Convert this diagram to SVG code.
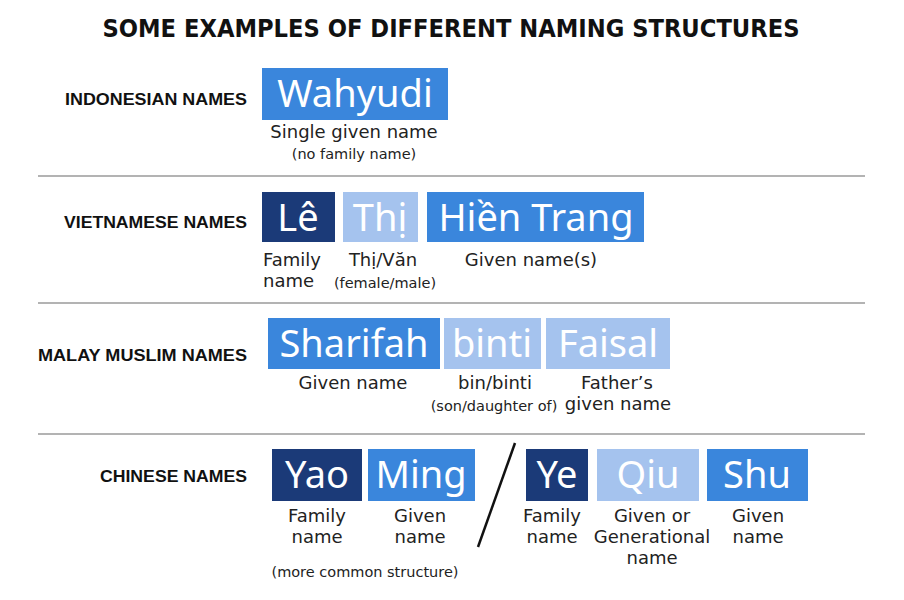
<svg xmlns="http://www.w3.org/2000/svg" width="904" height="600" viewBox="0 0 904 600">
<style>
.title{font-family:"DejaVu Sans Condensed","Liberation Sans",sans-serif;font-weight:bold;font-size:25px;fill:#111}
.row{font-family:"Liberation Sans",Arial,sans-serif;font-weight:bold;font-size:17px;fill:#111;text-anchor:end}
.nm{font-family:"Noto Sans","Open Sans",sans-serif;font-size:38px;fill:#fff;text-anchor:middle}
.lb{font-family:"DejaVu Sans",sans-serif;font-size:18px;fill:#222;text-anchor:middle}
.sm{font-family:"DejaVu Sans",sans-serif;font-size:14.5px;fill:#222;text-anchor:middle}
.dk{fill:#1b3a78}.md{fill:#3a86dc}.lt{fill:#a5c3ee}
.sep{stroke:#9a9a9a;stroke-width:1.5}
</style>
<rect width="904" height="600" fill="#fff"/>
<text class="title" x="451" y="37" text-anchor="middle" textLength="697" lengthAdjust="spacingAndGlyphs">SOME EXAMPLES OF DIFFERENT NAMING STRUCTURES</text>
<g id="separators">
<line class="sep" x1="38" y1="176" x2="865" y2="176"/>
<line class="sep" x1="38" y1="303" x2="865" y2="303"/>
<line class="sep" x1="38" y1="434" x2="865" y2="434"/>
</g>
<g id="connectors">
<line x1="515" y1="443" x2="478" y2="547" stroke="#111" stroke-width="2.5"/>
</g>
<g id="indonesian">
<text class="row" x="247" y="105" textLength="182" lengthAdjust="spacingAndGlyphs">INDONESIAN NAMES</text>
<rect class="md" x="262" y="68" width="186" height="52"/>
<text class="nm" x="355" y="107">Wahyudi</text>
<text class="lb" x="354" y="138">Single given name</text>
<text class="sm" x="354" y="159">(no family name)</text>
</g>
<g id="vietnamese">
<text class="row" x="247" y="228" textLength="183" lengthAdjust="spacingAndGlyphs">VIETNAMESE NAMES</text>
<g id="le"><rect class="dk" x="262" y="192" width="73" height="50"/>
<text class="nm" x="298" y="231">Lê</text>
<text class="lb" style="text-anchor:start" y="266"><tspan x="263">Family</tspan><tspan x="263" dy="21">name</tspan></text></g>
<g id="thi"><rect class="lt" x="343" y="192" width="75" height="50"/>
<text class="nm" x="380" y="231">Thị</text>
<text class="lb" x="383" y="266">Thị/Văn</text><text class="sm" x="385" y="288">(female/male)</text></g>
<g id="hientrang"><rect class="md" x="427" y="192" width="217" height="50"/>
<text class="nm" x="536" y="231">Hiền Trang</text>
<text class="lb" x="531" y="266">Given name(s)</text></g>
</g>
<g id="malay">
<text class="row" x="247" y="361" textLength="209" lengthAdjust="spacingAndGlyphs">MALAY MUSLIM NAMES</text>
<g id="sharifah"><rect class="md" x="268" y="318" width="172" height="51"/>
<text class="nm" x="354" y="357">Sharifah</text>
<text class="lb" x="353" y="389">Given name</text></g>
<g id="binti"><rect class="lt" x="444" y="318" width="97" height="51"/>
<text class="nm" x="492" y="357">binti</text>
<text class="lb" x="495" y="389">bin/binti</text><text class="sm" x="494" y="411">(son/daughter of)</text></g>
<g id="faisal"><rect class="lt" x="546" y="318" width="124" height="51"/>
<text class="nm" x="608" y="357">Faisal</text>
<text class="lb" y="389"><tspan x="617">Father’s</tspan><tspan x="618" dy="21">given name</tspan></text></g>
</g>
<g id="chinese">
<text class="row" x="247" y="482" textLength="147" lengthAdjust="spacingAndGlyphs">CHINESE NAMES</text>
<g id="yao"><rect class="dk" x="272" y="449" width="90" height="52"/>
<text class="nm" x="317" y="488">Yao</text>
<text class="lb" y="522"><tspan x="317">Family</tspan><tspan x="317" dy="21">name</tspan></text></g>
<g id="ming"><rect class="md" x="368" y="449" width="107" height="52"/>
<text class="nm" x="421" y="488">Ming</text>
<text class="lb" y="522"><tspan x="420">Given</tspan><tspan x="420" dy="21">name</tspan></text></g>
<text class="sm" x="365" y="577">(more common structure)</text>
<g id="ye"><rect class="dk" x="526" y="449" width="62" height="52"/>
<text class="nm" x="557" y="488">Ye</text>
<text class="lb" y="522"><tspan x="552">Family</tspan><tspan x="552" dy="21">name</tspan></text></g>
<g id="qiu"><rect class="lt" x="597" y="449" width="102" height="52"/>
<text class="nm" x="648" y="488">Qiu</text>
<text class="lb" y="522"><tspan x="652">Given or</tspan><tspan x="652" dy="21">Generational</tspan><tspan x="652" dy="21">name</tspan></text></g>
<g id="shu"><rect class="md" x="707" y="449" width="101" height="52"/>
<text class="nm" x="757" y="488">Shu</text>
<text class="lb" y="522"><tspan x="758">Given</tspan><tspan x="758" dy="21">name</tspan></text></g>
</g>
</svg>
